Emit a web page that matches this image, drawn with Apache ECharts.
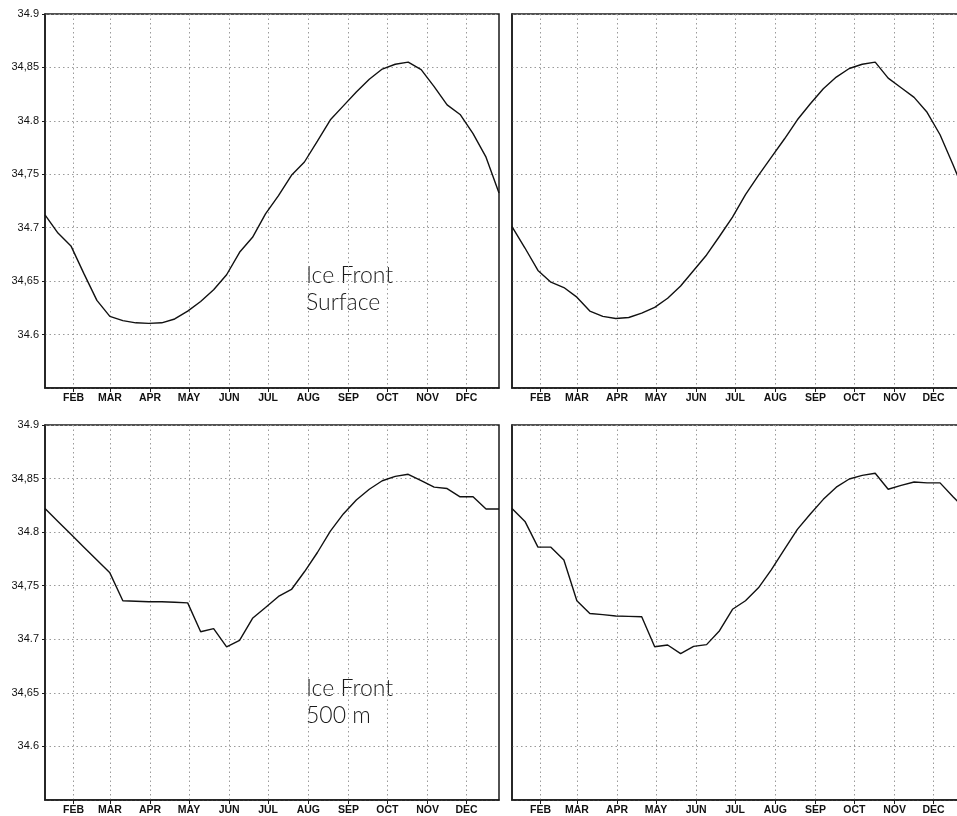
<!DOCTYPE html>
<html>
<head>
<meta charset="utf-8">
<script src="https://cdn.jsdelivr.net/npm/echarts@6/dist/echarts.min.js"></script>
<style>
html,body{margin:0;padding:0;background:#fff;}
#chart{width:957px;height:816px;}
</style>
</head>
<body>
<div id="chart"></div>
<script>
// Day of year of each sample (10-day steps)
const days = [10,20,30,40,50,60,70,80,90,100,110,120,130,140,150,160,170,180,190,200,210,220,230,240,250,260,270,280,290,300,310,320,330,340,350,360];
// Month tick positions (day of year of 1st of month)
const monthDays = [32,60,91,121,152,182,213,244,274,305,335];
const monthLabelsTopLeft = ['FEB','MAR','APR','MAY','JUN','JUL','AUG','SEP','OCT','NOV','DFC'];
const monthLabels = ['FEB','MAR','APR','MAY','JUN','JUL','AUG','SEP','OCT','NOV','DEC'];
// Y tick labels
const yTickValues = [34.6,34.65,34.7,34.75,34.8,34.85,34.9];
const yTickLabels = ['34.6','34,65','34.7','34,75','34.8','34,85','34.9'];

// Salinity series
const surfaceLeft = [34.712,34.695,34.683,34.657,34.632,34.617,34.613,34.611,34.6105,34.611,34.6146,34.622,34.631,34.642,34.656,34.677,34.691,34.713,34.730,34.749,34.7615,34.781,34.801,34.814,34.827,34.839,34.8485,34.853,34.855,34.848,34.832,34.815,34.806,34.788,34.766,34.7325];
const surfaceRight = [34.701,34.681,34.660,34.649,34.644,34.635,34.622,34.617,34.615,34.616,34.620,34.6255,34.634,34.6455,34.660,34.6745,34.692,34.710,34.731,34.749,34.766,34.783,34.801,34.816,34.830,34.841,34.849,34.853,34.855,34.840,34.831,34.822,34.808,34.787,34.759,34.729];
const deepLeft = [34.822,34.810,34.798,34.786,34.774,34.762,34.736,34.7355,34.735,34.735,34.7345,34.734,34.707,34.710,34.693,34.699,34.7196,34.7296,34.740,34.7465,34.763,34.781,34.801,34.817,34.830,34.840,34.848,34.852,34.854,34.848,34.842,34.8407,34.833,34.833,34.8216,34.8216];
const deepRight = [34.822,34.810,34.786,34.786,34.774,34.736,34.724,34.723,34.7217,34.7214,34.721,34.693,34.6947,34.6866,34.6934,34.695,34.708,34.728,34.736,34.748,34.765,34.784,34.8026,34.817,34.8306,34.842,34.8496,34.853,34.855,34.840,34.8437,34.8468,34.846,34.846,34.833,34.8207];

const panels = [
  {grid:{left:45,top:14,width:454,height:374}, data:surfaceLeft, months:monthLabelsTopLeft, yLabels:true},
  {grid:{left:512,top:14,width:454,height:374}, data:surfaceRight, months:monthLabels, yLabels:false},
  {grid:{left:45,top:425,width:454,height:375}, data:deepLeft, months:monthLabels, yLabels:true},
  {grid:{left:512,top:425,width:454,height:375}, data:deepRight, months:monthLabels, yLabels:false}
];

const gridLine = {show:true, lineStyle:{color:'#9a9a9a', type:[1.5,3], width:1}};

const option = {
  animation:false,
  backgroundColor:'#fff',
  grid: panels.map(p => Object.assign({show:true, outerBoundsMode:'none', containLabel:false, borderColor:'#1a1a1a', borderWidth:1.5, backgroundColor:'transparent'}, p.grid)),
  xAxis: panels.map((p,i) => ({
    type:'value', gridIndex:i, min:10, max:360,
    axisLine:{show:true, lineStyle:{color:'#1a1a1a', width:1.5}},
    axisTick:{show:true, length:4, customValues:monthDays, lineStyle:{color:'#1a1a1a', width:1}},
    axisLabel:{show:true, customValues:monthDays, margin:5,
      fontFamily:'Liberation Sans Narrow, Liberation Sans, sans-serif', fontWeight:'bold', fontSize:10.5, color:'#111',
      formatter:(v)=>{const k=monthDays.indexOf(Math.round(v)); return k>=0 ? p.months[k] : '';}},
    splitLine: gridLine
  })),
  yAxis: panels.map((p,i) => ({
    type:'value', gridIndex:i, min:34.55, max:34.9, interval:0.05,
    axisLine:{show:true, lineStyle:{color:'#1a1a1a', width:1.5}},
    axisTick:{show:p.yLabels, length:3, lineStyle:{color:'#1a1a1a', width:1}},
    axisLabel:{show:p.yLabels, margin:6, showMinLabel:false,
      fontFamily:'Liberation Sans, Arial, sans-serif', fontSize:11, color:'#111',
      formatter:(v)=>{
        let k=-1; yTickValues.forEach((t,j)=>{ if(Math.abs(t-v)<1e-6) k=j; });
        return k>=0 ? yTickLabels[k] : '';
      }},
    splitLine: gridLine
  })),
  series: panels.map((p,i) => ({
    type:'line', xAxisIndex:i, yAxisIndex:i,
    data: days.map((d,j)=>[d, p.data[j]]),
    showSymbol:false, symbol:'none',
    lineStyle:{color:'#111', width:1.4},
    clip:true
  })),
  graphic: [
    {type:'text', left:306, top:262, style:{text:'Ice Front\nSurface', fontFamily:'Lato, sans-serif', fontWeight:300, fontSize:23, lineHeight:27, fill:'#1a1a1a'}},
    {type:'text', left:306, top:675, style:{text:'Ice Front\n500 m', fontFamily:'Lato, sans-serif', fontWeight:300, fontSize:23, lineHeight:27, fill:'#1a1a1a'}}
  ]
};

const chart = echarts.init(document.getElementById('chart'), null, {renderer:'canvas'});
chart.setOption(option);
</script>
</body>
</html>
